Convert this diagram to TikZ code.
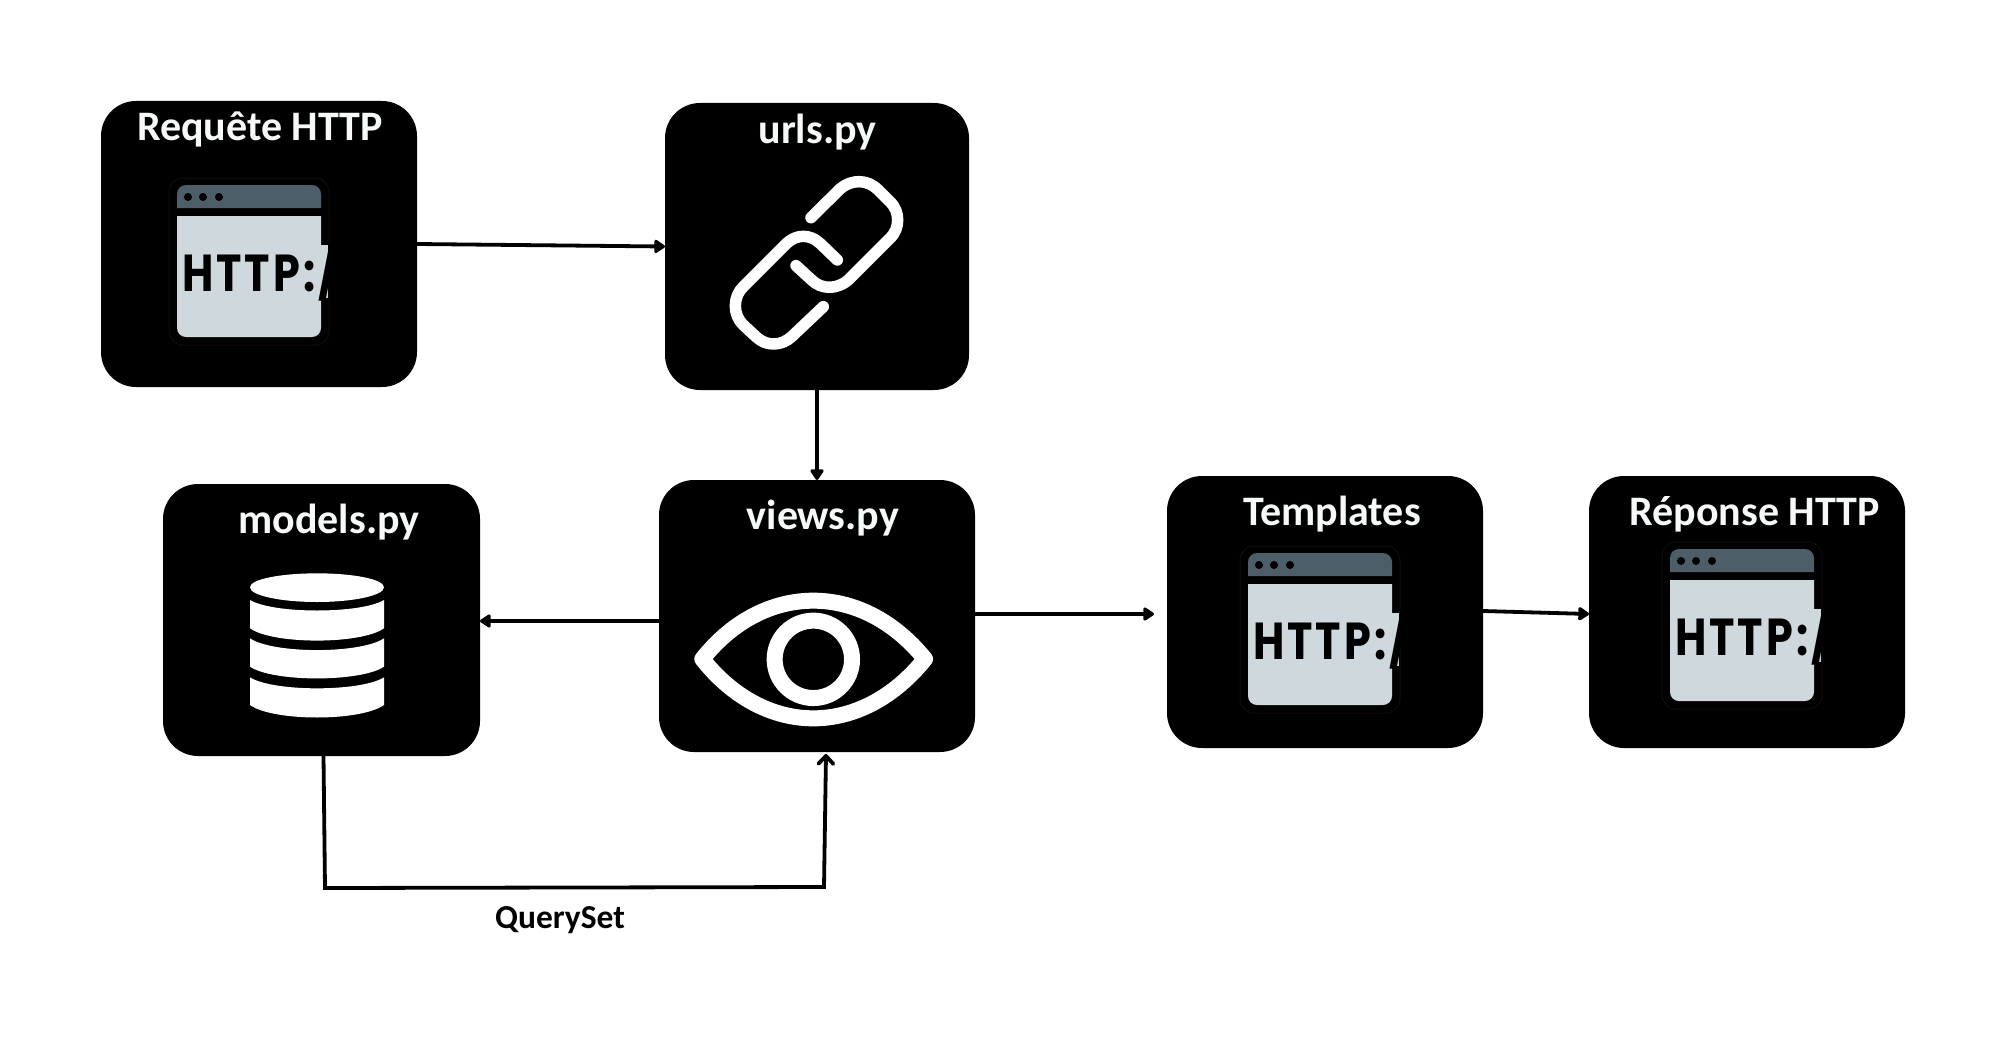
\documentclass[tikz,border=0pt]{standalone}
\usepackage{fontspec}
\usetikzlibrary{arrows.meta}
\setmainfont{Carlito}
\newfontfamily\httpfont[LetterSpace=7]{Poppins}
\definecolor{barcol}{HTML}{4D5E69}
\definecolor{bodycol}{HTML}{CFD8DC}
\definecolor{halo}{HTML}{0E0E0E}
\definecolor{titlecol}{HTML}{F6F9F9}
\tikzset{
  card/.style={fill=black,draw=none,rounded corners=35pt,inner sep=0pt,outer sep=0pt,minimum width=316pt},
  cardtitle/.style={anchor=base,inner sep=0pt,text=titlecol,font=\fontsize{42}{46}\selectfont\bfseries},
  flow/.style={draw=black,line width=3.8pt,-{Triangle[length=12pt,width=15pt,round]}},
  glyph/.style={draw=white,line cap=round,line join=round},
  pics/httpicon/.style={code={
    \draw[halo,line width=1pt,rounded corners=14pt] (-8,-7) rectangle (152,160);
    \fill[barcol] (0,23) -- (0,9) .. controls (0,4) and (4,0) .. (9,0) -- (135,0) .. controls (140,0) and (144,4) .. (144,9) -- (144,23) -- cycle;
    \fill[bodycol] (0,31) -- (0,143) .. controls (0,148) and (4,152) .. (9,152) -- (135,152) .. controls (140,152) and (144,148) .. (144,143) -- (144,31) -- cycle;
    \fill[bodycol] (143,60) rectangle (151,113);
    \foreach \dx in {11,26,42} {\fill[black] (\dx,12) circle[radius=4pt];}
    \node[anchor=base west,inner sep=0pt,text=black,font=\httpfont\bfseries\fontsize{52}{56}\selectfont] (-txt) at (5,106) {\scalebox{0.825}[1]{HTTP://}};
  }}
}
\begin{document}
\begin{tikzpicture}[x=1pt,y=-1pt]
\useasboundingbox (0,0) rectangle (2007,1038);
% cards
\node[card,minimum height=286pt] (req) at (259,244) {};
\node[card,minimum width=304pt,minimum height=287pt] (urls) at (817,246.5) {};
\node[card,minimum width=317pt,minimum height=272pt] (models) at (321.5,620) {};
\node[card,minimum height=272pt] (views) at (817,616) {};
\node[card,minimum height=272pt] (tmpl) at (1325,612) {};
\node[card,minimum height=272pt] (resp) at (1747,612) {};
% titles
\node[cardtitle] (treq) at (260,140) {Requête HTTP};
\node[cardtitle] (turls) at (817.5,143) {urls.py};
\node[cardtitle] (tmodels) at (329,533) {models.py};
\node[cardtitle] (tviews) at (823,529) {views.py};
\node[cardtitle] (ttmpl) at (1332,525) {Templates};
\node[cardtitle] (tresp) at (1754.7,525) {Réponse HTTP};
% browser icons
\pic (ic1) at (177,185) {httpicon};
\pic (ic2) at (1248,553) {httpicon};
\pic (ic3) at (1670,549) {httpicon};
% chain
\begin{scope}[shift={(650,80)},x=0.33333pt,y=-0.33333pt]
\draw[glyph,line width=11.5pt] (483,413) -- (570,327) .. controls (590,310) and (610,305) .. (628,305)
  .. controls (650,305) and (670,315) .. (685,330) -- (722,367) .. controls (750,395) and (750,445) .. (722,473)
  -- (600,595) .. controls (565,630) and (515,630) .. (485,600) -- (438,557);
\draw[glyph,line width=11.5pt] (562,540) -- (510,490) .. controls (480,462) and (440,462) .. (410,490)
  -- (280,620) .. controls (248,650) and (248,705) .. (280,735) -- (320,772) .. controls (350,800) and (395,798) .. (425,770) -- (520,680);
\end{scope}
% database
\begin{scope}[shift={(150,470)},x=0.33333pt,y=-0.33333pt]
\fill[white] (300,352) .. controls (300,328) and (390,310) .. (501,310) .. controls (612,310) and (702,328) .. (702,352)
  .. controls (702,376) and (612,396) .. (501,396) .. controls (390,396) and (300,376) .. (300,352) -- cycle;
\fill[white] (300,390) .. controls (370,432) and (632,432) .. (702,390) -- (702,475) .. controls (632,524) and (370,524) .. (300,475) -- cycle;
\fill[white] (300,505) .. controls (370,552) and (632,552) .. (702,505) -- (702,590) .. controls (632,637) and (370,637) .. (300,590) -- cycle;
\fill[white] (300,622) .. controls (370,666) and (632,666) .. (702,622) -- (702,705) .. controls (632,755) and (370,755) .. (300,705) -- cycle;
\end{scope}
% eye
\begin{scope}[shift={(650,470)},x=0.33333pt,y=-0.33333pt]
\draw[glyph,line width=16pt] (157,567) .. controls (250,450) and (370,392) .. (490,392)
  .. controls (610,392) and (730,450) .. (825,567) .. controls (730,685) and (610,745) .. (490,745)
  .. controls (370,745) and (250,685) .. (157,567) -- cycle;
\draw[glyph,line width=16pt] (490,568) circle[radius=38.7pt];
\end{scope}
% connectors
\coordinate (qa) at (325,888);
\coordinate (qb) at (824,887);
\draw[flow] (req.east) -- (urls.west);
\draw[flow] (urls.south) -- (views.north);
\draw[flow] ([yshift=-5pt]views.west) -- ([yshift=-1pt]models.east);
\draw[flow] ([yshift=2pt]views.east) -- ([xshift=-13pt,yshift=-2pt]tmpl.west);
\draw[flow] ([yshift=1pt]tmpl.east) -- ([yshift=-2pt]resp.west);
\draw[black,line width=3.8pt,line join=miter,-{Straight Barb[length=8pt,width=15pt,round]}] ([xshift=2pt]models.south) -- (qa) -- (qb) -- ([xshift=9pt,yshift=-2pt]views.south);
\node[anchor=base,inner sep=0pt,text=black,font=\fontsize{33.5}{36}\selectfont\bfseries] (qs) at (560,928) {QuerySet};
\end{tikzpicture}
\end{document}
